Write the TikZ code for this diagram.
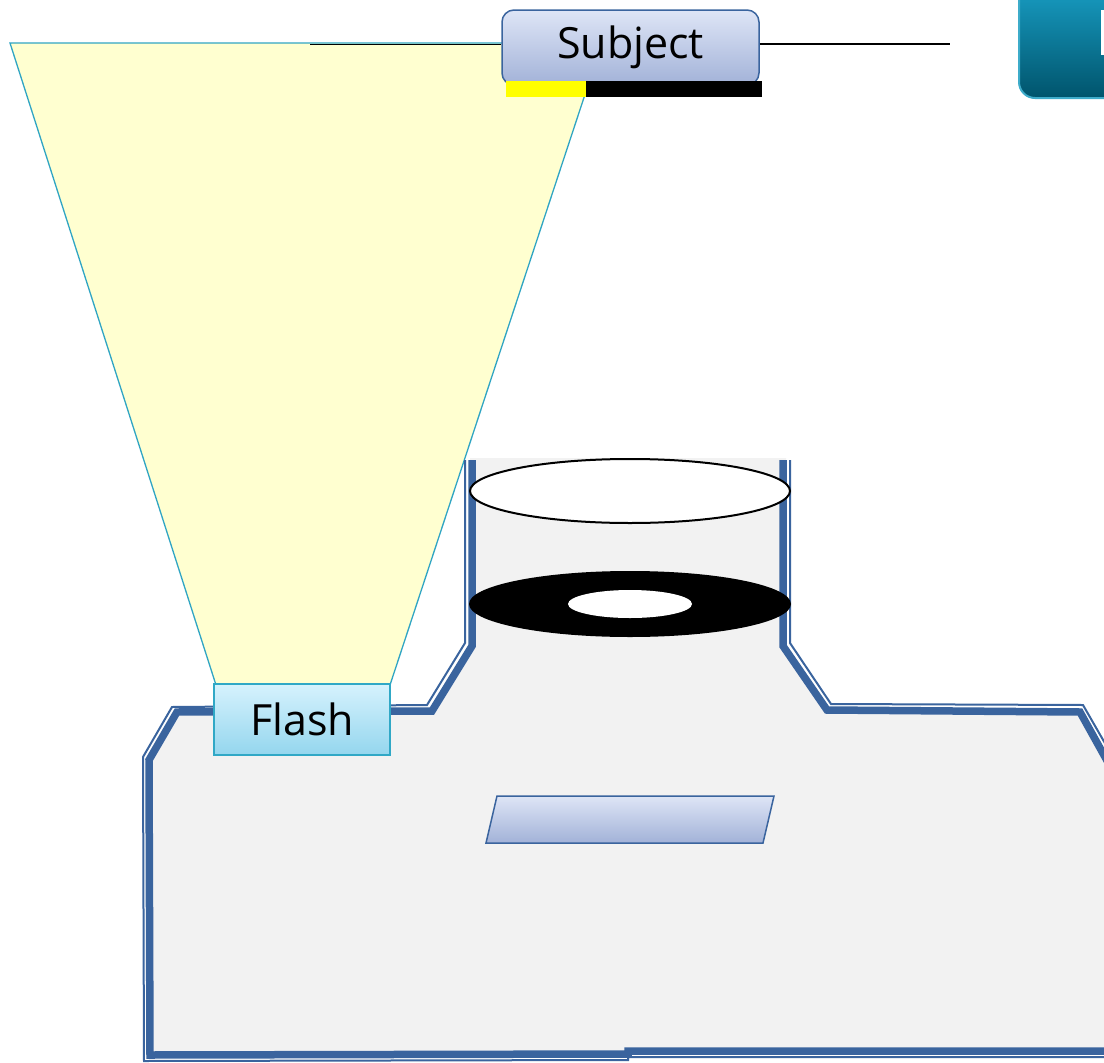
\documentclass[tikz,border=0pt]{standalone}
\usepackage{fontspec}
\setmainfont{Open Sans}
\definecolor{bodyblue}{RGB}{58,100,158}
\definecolor{lavtop}{RGB}{222,229,246}
\definecolor{lavbot}{RGB}{162,178,216}
\definecolor{flashtop}{RGB}{214,242,253}
\definecolor{flashbot}{RGB}{148,214,238}
\definecolor{flashedge}{RGB}{48,168,198}
\definecolor{beamfill}{RGB}{255,255,208}
\definecolor{beamedge}{RGB}{48,165,195}
\definecolor{bodygray}{RGB}{242,242,242}
\definecolor{tabedge}{RGB}{62,172,202}
\definecolor{tabtop}{RGB}{28,168,208}
\definecolor{tabbot}{RGB}{0,84,108}
\definecolor{barYellow}{RGB}{255,255,0}
\begin{document}
\begin{tikzpicture}[x=1pt,y=-1pt,
  lavender/.style={top color=lavtop,bottom color=lavbot},
  subjectbox/.style={lavender,draw=bodyblue,line width=1.5,rounded corners=12,minimum width=257,minimum height=75,inner sep=0,font=\fontsize{43}{43}\selectfont},
  flashbox/.style={top color=flashtop,bottom color=flashbot,draw=flashedge,line width=1.2,minimum width=176,minimum height=71,inner sep=0,font=\fontsize{43}{43}\selectfont},
  thickwall/.style={draw=bodyblue,line width=7.5,line join=miter},
  thinwall/.style={draw=bodyblue,line width=2,line join=miter},
  beam/.style={fill=beamfill,draw=beamedge,line width=1.3}]
\clip (0,0) rectangle (1104,1063);
\fill[white] (0,0) rectangle (1104,1063);

% teal tab in the corner
\node[draw=tabedge,line width=2,rounded corners=16,
  top color=tabtop,bottom color=tabbot,
  minimum width=130,minimum height=130,anchor=south west,inner sep=0] (tab) at (1018,99) {};
\fill[white] (1101,10) rectangle (1104,55);

% light beam from the flash
\path[beam] (10,43) -- (602,43) -- (390,685) -- (216,685) -- cycle;

% camera body fill
\fill[bodygray] (470,458) -- (786,458) -- (786,645) -- (828,710) -- (1080,712) -- (1110,765) -- (1110,1053) -- (628,1054) -- (150,1056) -- (149,760) -- (177,712) -- (432,711) -- (470,645) -- cycle;

% double outline: thin outer line, thick inner line
\draw[thinwall] (465,460) -- (465,643) -- (427,705) -- (172,707) -- (143,757) -- (144,1061) -- (628,1060) -- (628,1057) -- (1110,1057);
\draw[thinwall] (790,460) -- (790,643) -- (831,704) -- (1083,705) -- (1110,752);
\draw[thickwall] (472,460) -- (472,646) -- (432,711) -- (177,712) -- (149,760) -- (150,1055) -- (628,1054) -- (628,1051) -- (1110,1051);
\draw[thickwall] (783,460) -- (783,646) -- (827,710) -- (1080,712) -- (1110,766);

% lens elements
\draw[fill=white,line width=2] (630,491) ellipse [x radius=160,y radius=32];
\fill[black] (630,604) ellipse [x radius=161,y radius=33];
\fill[white] (630,604) ellipse [x radius=62,y radius=14];

% display panel
\path[lavender,draw=bodyblue,line width=1.5] (497,796) -- (774,796) -- (763,843) -- (486,843) -- cycle;

% flash unit
\node[flashbox] (flash) at (302,719.5) {Flash};

% subject with its ground bar and guide lines
\coordinate (gl) at (310,44);
\coordinate (gr) at (950,44);
\node[subjectbox] (subject) at (630.5,47.5) {Subject};
\draw[line width=1] (gl) -- (subject.west |- gl);
\draw[line width=1.3] (subject.east |- gr) -- (gr);
\fill[barYellow] (506,81) rectangle (586,97);
\fill[black] (586,81) rectangle (762,97);
\end{tikzpicture}
\end{document}
